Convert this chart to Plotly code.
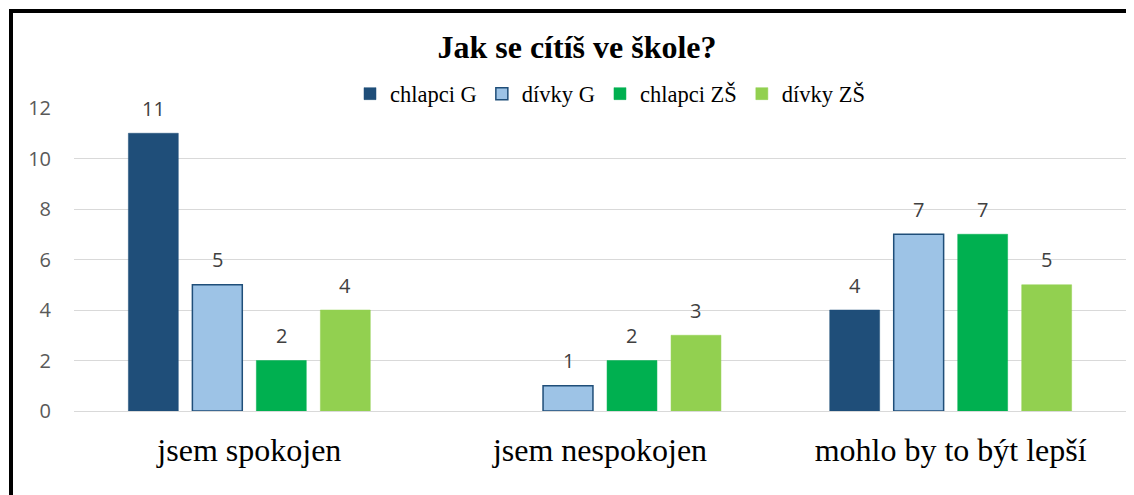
import plotly.graph_objects as go

categories = ["jsem spokojen", "jsem nespokojen", "mohlo by to být lepší"]
series = ["chlapci G", "dívky G", "chlapci ZŠ", "dívky ZŠ"]
values = {
    "chlapci G": [11, None, 4],
    "dívky G": [5, 1, 7],
    "chlapci ZŠ": [2, 2, 7],
    "dívky ZŠ": [4, 3, 5],
}
colors = ["#1F4E79", "#9DC3E6", "#00B050", "#92D050"]
outlines = ["#1F4E79", "#1F4E79", "#00B050", "#92D050"]
y_ticks = [0, 2, 4, 6, 8, 10, 12]

# the page puts the figure 8px in from the top-left corner
OFF = 8
W, H = 1134 - OFF, 495 - OFF
L, R, T, B = 74 - OFF, 8, 108 - OFF, 84
pw, ph = W - L - R, H - T - B
BARGAP, GROUPGAP = 0.27, 0.22


def px_x(p):
    # reference pixel -> paper coordinate
    return (p - OFF - L) / pw


def px_y(p):
    return (H - B - (p - OFF)) / ph


fig = go.Figure()
for name, col, ol in zip(series, colors, outlines):
    fig.add_trace(go.Bar(
        name=name, x=categories, y=values[name],
        marker=dict(color=col, line=dict(color=ol, width=1.5 if name == "dívky G" else 0.5)),
    ))

# value labels sit a bit higher above the bars than plotly's own outside text
slot = pw / len(categories) * (1 - BARGAP) / len(series)
annotations = []
for i, name in enumerate(series):
    shift = (i - (len(series) - 1) / 2) * slot
    for cat, v in zip(categories, values[name]):
        if v is None:
            continue
        annotations.append(dict(
            x=cat, y=v, xref="x", yref="y", text=str(v), showarrow=False,
            xshift=shift, yshift=25, yanchor="middle",
            font=dict(family="Open Sans", size=20, color="#404040"),
        ))

fig.update_layout(
    width=W, height=H,
    margin=dict(l=L, r=R, t=T, b=B),
    paper_bgcolor="white", plot_bgcolor="white",
    barmode="group", bargap=BARGAP, bargroupgap=GROUPGAP,
    title=dict(text="<b>Jak se cítíš ve škole?</b>", x=(577 - OFF) / W, xanchor="center",
               y=1 - (47 - OFF) / H, yanchor="middle",
               font=dict(family="Liberation Serif", size=32, color="black")),
    legend=dict(orientation="h", x=px_x(610), xanchor="center", y=px_y(94), yanchor="middle",
                font=dict(family="Liberation Serif", size=22.5, color="black"),
                itemwidth=30, tracegroupgap=0, traceorder="normal"),
    xaxis=dict(showline=False, ticks="", ticklabelstandoff=17,
               tickfont=dict(family="Liberation Serif", size=32, color="black")),
    yaxis=dict(range=[0, 12], tickvals=y_ticks, showgrid=True, gridcolor="#D9D9D9", gridwidth=1,
               zeroline=True, zerolinecolor="#D9D9D9", zerolinewidth=1, showline=False,
               ticklabelstandoff=22,
               tickfont=dict(family="Open Sans", size=20, color="#595959")),
    annotations=annotations,
    shapes=[
        dict(type="line", xref="paper", yref="paper", x0=px_x(11), x1=px_x(11),
             y0=px_y(9), y1=px_y(500), line=dict(color="black", width=4)),
        dict(type="line", xref="paper", yref="paper", x0=px_x(9), x1=px_x(1140),
             y0=px_y(11), y1=px_y(11), line=dict(color="black", width=4)),
    ],
)

fig.write_html("out.html")
